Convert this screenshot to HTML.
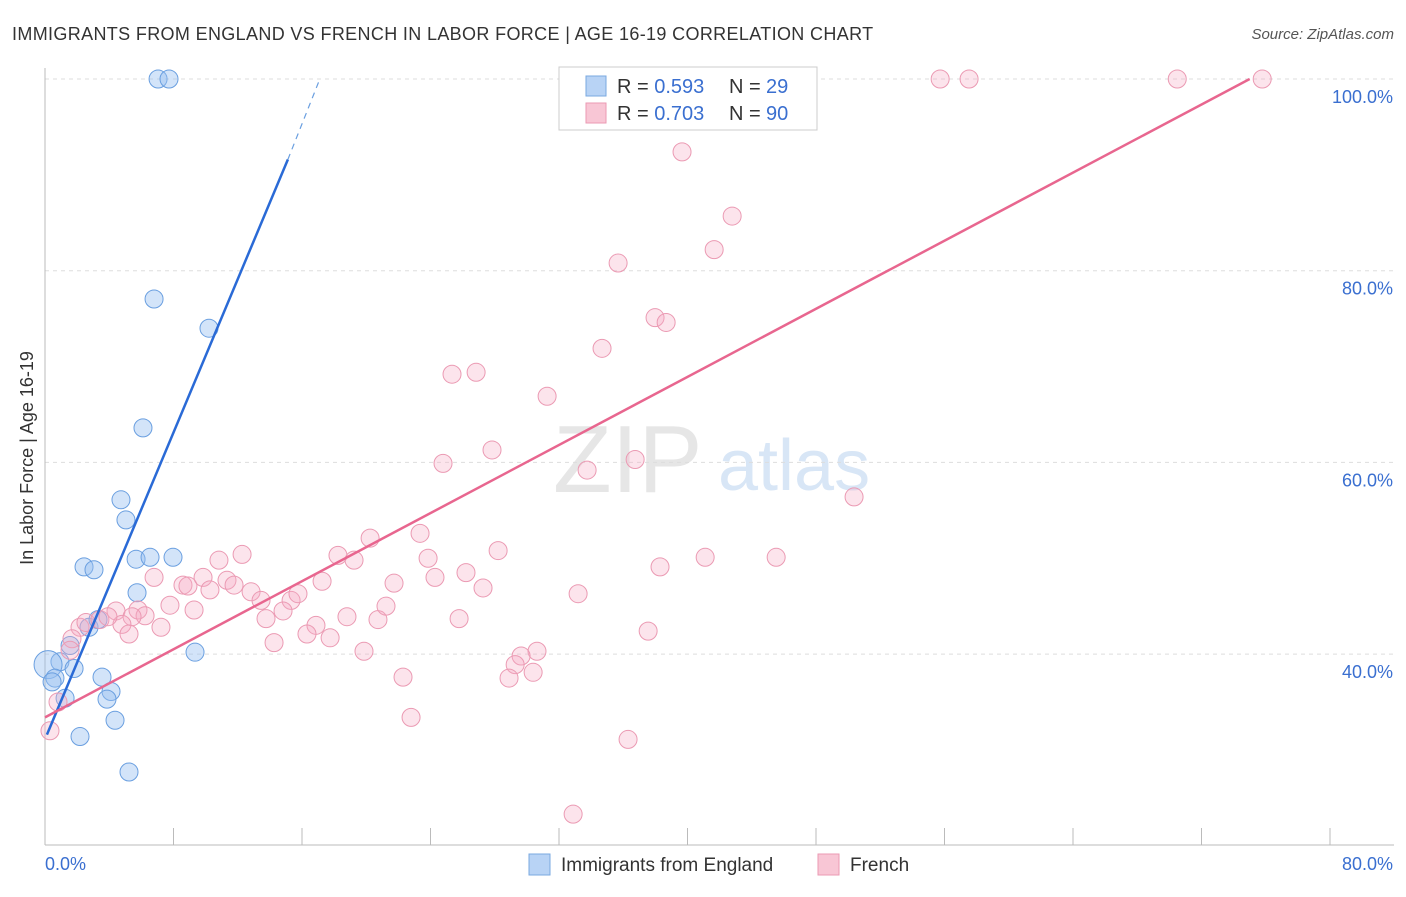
<!DOCTYPE html>
<html><head><meta charset="utf-8"><style>
body{margin:0;background:#fff;font-family:"Liberation Sans",sans-serif}
svg text{font-family:"Liberation Sans",sans-serif}
</style></head><body>
<svg id="c" width="1406" height="892" xmlns="http://www.w3.org/2000/svg">
<text x="12" y="40" font-size="18" fill="#333" letter-spacing="0.35">IMMIGRANTS FROM ENGLAND VS FRENCH IN LABOR FORCE | AGE 16-19 CORRELATION CHART</text>
<text x="1394" y="39" font-size="15" fill="#555" font-style="italic" text-anchor="end">Source: ZipAtlas.com</text>
<text x="33" y="458" font-size="18" fill="#333" text-anchor="middle" transform="rotate(-90 33 458)">In Labor Force | Age 16-19</text>
<text x="553" y="492" font-size="96" fill="#e6e6e6" font-family="Liberation Serif">ZIP</text>
<text x="718" y="490" font-size="72" fill="#d8e6f6">atlas</text>
<g id="grid"></g><g id="pts"></g><g id="lines"></g>
<g>
<rect x="559" y="67" width="258" height="63" fill="#fff" stroke="#ccc"/>
<rect x="586" y="76" width="20" height="20" fill="#b8d3f5" stroke="#7aa8e0"/>
<rect x="586" y="103" width="20" height="20" fill="#f8c6d5" stroke="#eb9ab3"/>
<text x="617" y="93" font-size="20" fill="#333">R = <tspan fill="#3a6fd0">0.593</tspan></text>
<text x="729" y="93" font-size="20" fill="#333">N = </text>
<text x="766" y="93" font-size="20" fill="#3a6fd0">29</text>
<text x="617" y="120" font-size="20" fill="#333">R = <tspan fill="#3a6fd0">0.703</tspan></text>
<text x="729" y="120" font-size="20" fill="#333">N = </text>
<text x="766" y="120" font-size="20" fill="#3a6fd0">90</text>
</g>
<g>
<rect x="529" y="854" width="21" height="21" fill="#b8d3f5" stroke="#7aa8e0"/>
<text x="561" y="871" font-size="19" fill="#333">Immigrants from England</text>
<rect x="818" y="854" width="21" height="21" fill="#f8c6d5" stroke="#eb9ab3"/>
<text x="850" y="871" font-size="19" fill="#333">French</text>
</g>
</svg>
<script>
const xTicks=[0,8,16,24,32,40,48,56,64,72,80];
const yTicks=[40,60,80,100];
const blueX=[7.04,7.72,6.79,10.21,6.10,4.73,5.04,2.43,3.05,5.67,6.54,7.97,5.73,2.74,3.30,1.56,0.93,0.19,1.81,0.62,0.44,3.55,4.11,3.86,1.25,4.36,2.18,9.34,5.23];
const blueY=[100,100,77.05,74.0,63.6,56.1,54.0,49.1,48.8,49.9,50.1,50.1,46.4,42.8,43.6,40.9,39.2,38.9,38.5,37.5,37.1,37.6,36.1,35.3,35.4,33.1,31.4,40.2,27.7];
const pinkX=[45.33,46.58,55.73,57.53,70.49,75.78,39.66,42.78,41.66,35.68,37.98,38.67,34.68,25.34,26.84,31.26,27.83,24.78,36.74,33.75,50.37,23.35,20.24,28.21,23.85,18.24,19.24,12.27,10.83,41.10,45.52,6.79,8.59,8.90,9.84,11.33,11.77,10.27,12.83,13.45,15.32,15.75,17.25,21.73,24.28,26.21,27.27,38.29,7.78,5.79,4.42,6.23,5.42,9.28,14.82,13.76,16.87,18.80,20.73,21.23,33.19,25.78,7.22,4.79,2.18,2.55,3.42,3.92,5.23,1.68,16.31,17.75,14.26,19.86,30.63,29.64,29.27,37.55,30.39,28.89,22.29,22.79,36.30,32.88,0.31,0.81,1.56];
const pinkY=[100,100,100,100,100,100,92.4,85.7,82.2,80.8,75.1,74.6,71.9,69.2,69.4,66.9,61.3,59.9,60.3,59.2,56.4,52.6,52.1,50.8,50.0,50.3,49.8,50.4,49.8,50.1,50.1,48.0,47.2,47.1,48.0,47.7,47.2,46.7,46.5,45.6,45.6,46.3,47.6,47.4,48.0,48.5,46.9,49.1,45.1,44.6,44.5,44.0,43.9,44.6,44.5,43.7,43.0,43.9,43.6,45.0,46.3,43.7,42.8,43.1,42.8,43.3,43.6,43.9,42.1,41.6,42.1,41.7,41.2,40.3,40.3,39.8,38.9,42.4,38.1,37.5,37.6,33.4,31.1,23.3,32.0,35.0,40.4];
const blueLine=[[0.12,31.6],[15.12,91.6],[17.11,100]];
const pinkLine=[[0,33.4],[75.0,100]];
const X=v=>45+v/80*1285, Y=v=>79+(100-v)*9.585;
const NS='http://www.w3.org/2000/svg';
function mk(t,a,p){const e=document.createElementNS(NS,t);for(const k in a)e.setAttribute(k,a[k]);p.appendChild(e);return e;}
const g=document.getElementById('grid');
yTicks.forEach(t=>{const l=mk('line',{x1:45,x2:1394,y1:Y(t),y2:Y(t),stroke:'#ddd','stroke-dasharray':'4,4'},g);


const tx=mk('text',{x:1393,y:Y(t)+24,'font-size':18,fill:'#3a6fd0','text-anchor':'end'},g);tx.textContent=t.toFixed(1)+'%';

});
const ax=mk('line',{x1:45,x2:45,y1:68,y2:845,stroke:'#bbb'},g);


const bx=mk('line',{x1:45,x2:1394,y1:845,y2:845,stroke:'#bbb'},g);


xTicks.forEach(t=>{const l=mk('line',{x1:X(t),x2:X(t),y1:828,y2:845,stroke:'#bbb'},g);

});
[[0,'start',45],[80,'end',1393]].forEach(([t,a,x])=>{const tx=mk('text',{x:x,y:870,'font-size':18,fill:'#3a6fd0','text-anchor':a},g);tx.textContent=t.toFixed(1)+'%';

});
const p=document.getElementById('pts');
blueX.forEach((v,i)=>{const c=mk('circle',{cx:X(v),cy:Y(blueY[i]),r:i==17?14:9,fill:'rgba(150,190,240,0.42)',stroke:'#6a9fe0','stroke-width':1},p);

});
pinkX.forEach((v,i)=>{const c=mk('circle',{cx:X(v),cy:Y(pinkY[i]),r:9,fill:'rgba(245,170,195,0.32)',stroke:'#eb9ab3','stroke-width':1},p);

});
const L=document.getElementById('lines');
const b1=mk('line',{x1:X(blueLine[0][0]),y1:Y(blueLine[0][1]),x2:X(blueLine[1][0]),y2:Y(blueLine[1][1]),stroke:'#2a6ad6','stroke-width':2.5},L);


const b2=mk('line',{x1:X(blueLine[1][0]),y1:Y(blueLine[1][1]),x2:X(blueLine[2][0]),y2:Y(blueLine[2][1]),stroke:'#6a9fe0','stroke-width':1.2,'stroke-dasharray':'6,5'},L);


const p1=mk('line',{x1:X(pinkLine[0][0]),y1:Y(pinkLine[0][1]),x2:X(pinkLine[1][0]),y2:Y(pinkLine[1][1]),stroke:'#e8668f','stroke-width':2.5},L);


</script>
</body></html>
